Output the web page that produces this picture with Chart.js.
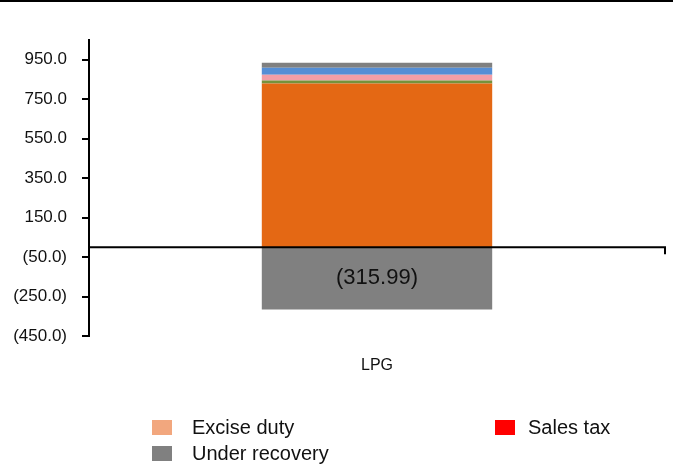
<!DOCTYPE html>
<html>
<head>
<meta charset="utf-8">
<script src="https://cdn.jsdelivr.net/npm/chart.js@4.4.0/dist/chart.umd.min.js"></script>
<style>
  html, body { margin: 0; padding: 0; background: #fff; }
  #wrap { position: relative; width: 673px; height: 468px; overflow: hidden; font-family: "Liberation Sans", Arial, sans-serif; }
  #topline { position: absolute; left: 0; top: 0; width: 673px; height: 2px; background: #000; }
  #chart { position: absolute; left: 0; top: 0; }
  .lg { position: absolute; font-size: 20px; color: #111; line-height: 20px; white-space: nowrap; }
  .lg span.box { position: absolute; left: 0; width: 20px; height: 15px; }
</style>
</head>
<body>
<div id="wrap">
  <canvas id="chart" width="673" height="468"></canvas>
  <div id="topline"></div>
  <div id="legend"></div>
</div>
<script>
// ---- data ----
const categories = ["LPG"];
const costValues = [829.5];
const freightValues = [15];
const marginValues = [30];
const commissionValues = [35];
const otherValues = [25];
const exciseDutyValues = [0];
const salesTaxValues = [0];
const underRecoveryValues = [-315.99];
const yTickValues = [-450, -250, -50, 150, 350, 550, 750, 950];

const datasets = [
  { label: "Cost", data: costValues, backgroundColor: "#E46814", inLegend: false },
  { label: "Freight", data: freightValues, backgroundColor: "#76923C", inLegend: false },
  { label: "Margin", data: marginValues, backgroundColor: "#F29EA6", inLegend: false },
  { label: "Commission", data: commissionValues, backgroundColor: "#558ED5", inLegend: false },
  { label: "Other", data: otherValues, backgroundColor: "#808080", inLegend: false },
  { label: "Excise duty", data: exciseDutyValues, backgroundColor: "#F2A77E", inLegend: true },
  { label: "Sales tax", data: salesTaxValues, backgroundColor: "#FF0000", inLegend: true },
  { label: "Under recovery", data: underRecoveryValues, backgroundColor: "#808080", inLegend: true, showValue: true }
];

function fmt(v) {
  return v < 0 ? "(" + Math.abs(v).toFixed(1) + ")" : v.toFixed(1);
}

const zeroLinePlugin = {
  id: "zeroLine",
  afterDatasetsDraw(chart) {
    const { ctx, chartArea, scales } = chart;
    const y0 = scales.y.getPixelForValue(0);
    ctx.save();
    ctx.strokeStyle = "#000";
    ctx.lineWidth = 2;
    ctx.beginPath();
    ctx.moveTo(chartArea.left, y0);
    ctx.lineTo(chartArea.right, y0);
    ctx.moveTo(chartArea.right, y0 - 1);
    ctx.lineTo(chartArea.right, y0 + 7);
    ctx.stroke();
    ctx.restore();
  }
};

const valueLabelPlugin = {
  id: "valueLabel",
  afterDatasetsDraw(chart) {
    const { ctx } = chart;
    chart.data.datasets.forEach((ds, i) => {
      if (!ds.showValue) return;
      const meta = chart.getDatasetMeta(i);
      meta.data.forEach((el, j) => {
        const v = ds.data[j];
        const txt = v < 0 ? "(" + Math.abs(v).toFixed(2) + ")" : v.toFixed(2);
        ctx.save();
        ctx.font = '22px "Liberation Sans", Arial, sans-serif';
        ctx.fillStyle = "#111";
        ctx.textAlign = "center";
        ctx.textBaseline = "middle";
        ctx.fillText(txt, el.x, (el.y + el.base) / 2);
        ctx.restore();
      });
    });
  }
};

new Chart(document.getElementById("chart"), {
  type: "bar",
  data: {
    labels: categories,
    datasets: datasets.map(d => Object.assign({ borderWidth: 0, barPercentage: 0.5, categoryPercentage: 0.8 }, d))
  },
  options: {
    responsive: false,
    animation: false,
    layout: { padding: { top: 40, left: 0, right: 8, bottom: 0 } },
    plugins: {
      legend: { display: false },
      tooltip: { enabled: false }
    },
    scales: {
      x: {
        stacked: true,
        grid: { display: false, drawTicks: false },
        border: { display: false },
        ticks: { color: "#111", font: { family: '"Liberation Sans", Arial, sans-serif', size: 16 }, padding: 20 },
        afterFit(scale) { scale.height = 132; }
      },
      y: {
        stacked: true,
        min: -450,
        max: 1050,
        afterBuildTicks(scale) { scale.ticks = yTickValues.map(v => ({ value: v })); },
        grid: { display: true, drawOnChartArea: false, drawTicks: true, tickLength: 7, color: "#000", lineWidth: 2 },
        border: { display: true, color: "#000", width: 2 },
        ticks: {
          color: "#111",
          padding: 15,
          font: { family: '"Liberation Sans", Arial, sans-serif', size: 17 },
          callback: v => fmt(v)
        },
        afterFit(scale) { scale.width = 89; }
      }
    }
  },
  plugins: [zeroLinePlugin, valueLabelPlugin]
});

// HTML legend built from dataset definitions
const legendPos = {
  "Excise duty": { left: 152, top: 417 },
  "Sales tax": { left: 495, top: 417 },
  "Under recovery": { left: 152, top: 443 }
};
const lg = document.getElementById("legend");
datasets.filter(d => d.inLegend).forEach(d => {
  const p = legendPos[d.label];
  const item = document.createElement("div");
  item.className = "lg";
  item.style.left = p.left + "px";
  item.style.top = p.top + "px";
  item.style.paddingLeft = (d.label === "Sales tax" ? 33 : 40) + "px";
  const box = document.createElement("span");
  box.className = "box";
  box.style.top = "3px";
  box.style.background = d.backgroundColor;
  item.appendChild(box);
  item.appendChild(document.createTextNode(d.label));
  lg.appendChild(item);
});
</script>
</body>
</html>
